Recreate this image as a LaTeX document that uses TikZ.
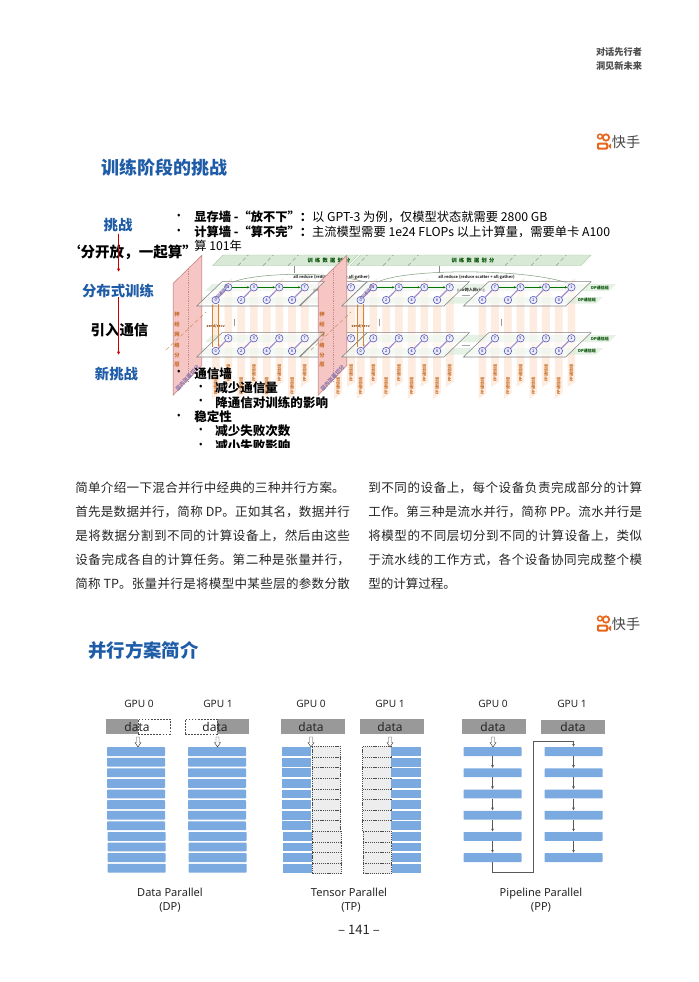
\documentclass[tikz,border=0pt]{standalone}
\usepackage{fontspec}
\setmainfont{Noto Sans CJK SC}
\newfontfamily\latinfont{Noto Sans}
\usetikzlibrary{arrows.meta}
\XeTeXlinebreaklocale "zh"
\XeTeXlinebreakskip=0pt plus 2pt minus .5pt
\newcommand\fsz[1]{\fontsize{#1}{#1}\selectfont}
\newcommand\jline[2]{\parbox{#1}{\tolerance=9999\hbadness=10000\emergencystretch=3pt\parfillskip=0pt\noindent #2}}
\definecolor{kblue}{HTML}{1F5CA8}
\definecolor{barblue}{HTML}{7AAADF}
\definecolor{datagrey}{HTML}{999999}
\definecolor{pinkp}{HTML}{F6C6C4}
\definecolor{pinke}{HTML}{C98A8A}
\definecolor{stripe}{HTML}{FDEADC}
\definecolor{bandg}{HTML}{D8EAD6}
\definecolor{bande}{HTML}{A9C8A5}
\definecolor{ppo}{HTML}{C8702A}
\definecolor{purp}{HTML}{A48CCB}
\definecolor{kslogo}{HTML}{E8661C}
\tikzset{
  lefttext/.style={anchor=west,inner sep=0pt,font=\fsz{9.4},text=black!85},
  slidehead/.style={inner sep=0pt,font=\fsz{13.8}\bfseries,text=kblue},
  blueword/.style={inner sep=0pt,font=\fsz{10.8}\bfseries,text=kblue},
  blackword/.style={inner sep=0pt,font=\fsz{10.8}\bfseries,text=black},
  bullettext/.style={anchor=west,inner sep=0pt,font=\fsz{9.2},text=black},
  dotmark/.style={inner sep=0pt,font=\latinfont\fsz{8},text=black},
  redarrow/.style={draw=red!80!black,line width=.7pt,-{Latex[length=2.5pt,width=2.5pt]}},
  bar/.style={fill=barblue,draw=none,rounded corners=.5pt,inner sep=0pt,minimum width=43.5pt,minimum height=6.6pt},
  halfbar/.style={fill=barblue,draw=none,inner sep=0pt,minimum width=21.8pt,minimum height=6.6pt},
  ghost/.style={fill=black!7,draw=black!70,dash pattern=on .9pt off .7pt,line width=.3pt,inner sep=0pt,minimum width=21.3pt,minimum height=7.95pt},
  databox/.style={fill=datagrey,draw=none,inner sep=0pt,minimum width=48pt,minimum height=11.2pt},
  ghostdata/.style={fill=white,draw=black!70,dash pattern=on 1.3pt off 1pt,line width=.5pt,inner sep=0pt,minimum width=24pt,minimum height=11.2pt},
  datatext/.style={inner sep=0pt,font=\latinfont\fsz{9},text=black!85},
  gputext/.style={anchor=mid,inner sep=0pt,font=\latinfont\fsz{7.6},text=black!85},
  captext/.style={anchor=mid,inner sep=0pt,font=\latinfont\fsz{8.3},text=black!85},
  openarrow/.style={fill=white,draw=black!75,line width=.35pt},
  flow/.style={draw=black!65,line width=.45pt,-{Latex[length=2.2pt,width=2.2pt]}},
  planebox/.style={fill=white,fill opacity=.55,draw=black!50,line width=.4pt},
  gpc/.style={circle,fill=blue!8,draw=blue!55!black!70,line width=.4pt,inner sep=0pt,minimum size=5.6pt,font=\fsz{2.8},text=blue!40!black},
  tinygreen/.style={inner sep=0pt,font=\fsz{3}\bfseries,text=green!30!black},
  pptext/.style={inner sep=0pt,rotate=90,font=\fsz{3}\bfseries,text=ppo},
  pinktext/.style={inner sep=0pt,font=\fsz{4}\bfseries,text=ppo},
  pinkrot/.style={inner sep=0pt,rotate=47,font=\fsz{4}\bfseries,text=purp!85!black},
  tplabel/.style={inner sep=0pt,rotate=47,font=\fsz{3.2}\bfseries,text=purp!85!black},
  srtext/.style={inner sep=0pt,font=\fsz{2.7}\bfseries,text=ppo!70!black},
  sendline/.style={draw=orange!80!black!80,line width=.35pt,-{Latex[length=1.8pt,width=1.8pt]}},
  greenflow/.style={draw=green!45!black,line width=.35pt,-{Latex[length=1.8pt,width=1.8pt]}},
  pairlink/.style={draw=purp,line width=.9pt},
}
\newcommand\kslogo[2]{%
  \begin{scope}[shift={(0,#1)}]
    \draw[kslogo,line width=1.1pt] (600,136.5) circle (2.4);
    \draw[kslogo,line width=1.3pt] (606,137.5) circle (3.2);
    \fill[kslogo,rounded corners=1pt] (597,142.5) rectangle (608,149.7);
    \fill[white,rounded corners=.6pt] (599,144.6) rectangle (606,147.6);
    \fill[kslogo] (608,146) -- (611,143.5) -- (611,149) -- cycle;
    \node[inner sep=0pt,font=\fsz{10.6},text=black!72] (#2) at (626,142) {快手};
  \end{scope}}
\begin{document}
\begin{tikzpicture}[x=0.75pt,y=-0.75pt]
\useasboundingbox (0,0) rectangle (699,982);
\fill[white] (0,0) rectangle (699,982);

% header
\node[inner sep=0pt,font=\fsz{6.9}\bfseries,text=black!70] (hdA) at (619,52) {对话先行者};
\node[inner sep=0pt,font=\fsz{6.9}\bfseries,text=black!70] (hdB) at (619,65.5) {洞见新未来};
\kslogo{0}{logoA}
\kslogo{482}{logoB}

% slide titles
\node[slidehead,font=\fsz{13.5}\bfseries] (titleA) at (164,168) {训练阶段的挑战};
\node[slidehead] (titleB) at (143.5,650.5) {并行方案简介};

% ---------- 3D figure ----------
% orange stripes
\foreach \c in {228.3,253.8,279.3,304.7,351,373.3,398.8,424.3,449.7,495,520.5,546,571.4}{
  \fill[stripe,opacity=.9] ({\c-3.8},284) -- ({\c+3.8},278) -- ({\c+3.8},382) -- ({\c-3.8},387) -- cycle;
  \node[pptext] (ppb\c) at (\c,373) {PP通信组};
}
\foreach \c in {215.7,241.2,266.7,292,338,360.7,386.2,411.7,437,482.3,507.8,533.3,558.7}{
  \fill[stripe,opacity=.9] ({\c-3.8},306) -- ({\c+3.8},306) -- ({\c+3.8},393) -- ({\c-3.8},399) -- cycle;
  \node[pptext] (ppf\c) at (\c,386) {PP通信组};
}
% green communication bands
\foreach \dy/\nm in {0/a,51/b}{
  \fill[bandg,opacity=.65] (212,{284+\dy}) -- (612,{284+\dy}) -- (616,{284+\dy}) -- (609,{291+\dy}) -- (205,{291+\dy}) -- cycle;
  \fill[bandg,opacity=.65] (200,{297+\dy}) -- (603,{297+\dy}) -- (596,{303.5+\dy}) -- (194,{303.5+\dy}) -- cycle;
  \node[tinygreen] (dpu\nm) at (600,{287.5+\dy}) {DP通信组};
  \node[tinygreen] (dpl\nm) at (587,{300.3+\dy}) {DP通信组};
}
% top band
\filldraw[fill=bandg,draw=bande,line width=.3pt] (212.7,265.7) -- (223,255) -- (358,255) -- (347.5,265.7) -- cycle;
\filldraw[fill=bandg,draw=bande,line width=.3pt] (350,265.7) -- (360.5,255) -- (591,255) -- (580.7,265.7) -- cycle;
\foreach \b in {238,263,288,357,383,408,505,531,556}
  \draw[black!55,densely dashed,line width=.25pt] (\b,265.7) -- ({\b+10.3},255);
\node[tinygreen,font=\fsz{3.9}\bfseries] (bandA) at (329,260.5) {训\hspace{1.7pt}练\hspace{1.7pt}数\hspace{1.7pt}据\hspace{1.7pt}划\hspace{1.7pt}分};
\node[tinygreen,font=\fsz{3.9}\bfseries] (bandB) at (473,260.5) {训\hspace{1.7pt}练\hspace{1.7pt}数\hspace{1.7pt}据\hspace{1.7pt}划\hspace{1.7pt}分};
% all reduce
\draw[black!45,line width=.3pt] (294,265.7) -- (294,273);
\draw[black!45,line width=.3pt] (439,265.7) -- (439,273);
\draw[bande!80!black,line width=.4pt] (231,283) .. controls (250,273) and (330,270) .. (368,283);
\draw[bande!80!black,line width=.4pt] (376,283) .. controls (400,268) and (530,268) .. (570,284);
\node[tinygreen,anchor=west,text=black!80] (redA) at (293,277.3) {all reduce (reduce scatter + all gather)};
\node[tinygreen,anchor=west,text=black!80] (redB) at (438,277.3) {all reduce (reduce scatter + all gather)};
\node[tinygreen,text=black!75] (pairA) at (471,290.2) {pair跨入网ring};
\node[tinygreen,anchor=west,text=black!75] (pairB) at (313,290.2) {pai};

% hidden plane pieces behind second pink wall
\foreach \dy in {0,51}{
  \filldraw[planebox] (300,{306+\dy}) -- (342,{306+\dy}) -- (367,{281.7+\dy}) -- (325,{281.7+\dy}) -- cycle;
}
\node[gpc] (hiddenA) at (351,287.3) {7};
\node[gpc] (hiddenB) at (351,338.3) {7};

% pink walls
\foreach \x/\nm in {0/a,145/b}{
  \filldraw[fill=pinkp,draw=pinke,line width=.5pt] ({173.3+\x},283.3) -- ({201.7+\x},255.5) -- ({201.7+\x},365.5) -- ({173.3+\x},395) -- cycle;
  \draw[pinke,densely dotted,line width=.35pt] ({188.5+\x},269) -- ({188.5+\x},381);
  \draw[orange!70!black!70,densely dashed,line width=.3pt] ({166+\x},350) -- ({206+\x},312);
  \node[pinktext] (p1\nm) at ({177+\x},314) {神};
  \node[pinktext] (p2\nm) at ({177+\x},324.5) {经};
  \node[pinktext] (p3\nm) at ({177+\x},335) {网};
  \node[pinktext] (p4\nm) at ({177+\x},345) {络};
  \node[pinktext] (p5\nm) at ({177+\x},355) {分};
  \node[pinktext] (p6\nm) at ({177+\x},365) {层};
  \node[pinkrot] (p7\nm) at ({187.5+\x},378) {层内张量切分};
}

% node planes and GPU circles: group, x shift, reversed?
\foreach \g/\dx/\rev in {0/0/0,1/145/0,2/266.7/1}{
  \foreach \l/\dy in {0/0,1/51}{
    \filldraw[planebox] ({196.7+\dx},{306+\dy}) -- ({299+\dx},{306+\dy}) -- ({324.3+\dx},{281.7+\dy}) -- ({222+\dx},{281.7+\dy}) -- cycle;
    \foreach \i/\off in {0/0,1/25.5,2/51,3/76.4}{
      \pgfmathtruncatemacro{\up}{\rev==1 ? 7-2*\i : 1+2*\i}
      \pgfmathtruncatemacro{\dn}{\up-1}
      \node[gpc] (u\g l\l i\i) at ({228.3+\dx+\off},{287.3+\dy}) {\up};
      \node[gpc] (d\g l\l i\i) at ({215.7+\dx+\off},{300+\dy}) {\dn};
      \draw[pairlink] (d\g l\l i\i) -- (u\g l\l i\i);
    }
  }
  \draw[greenflow] (u\g l0i0) -- (u\g l0i1);
  \draw[greenflow] (u\g l0i1) -- (u\g l0i2);
  \draw[greenflow] (u\g l0i2) -- (u\g l0i3);
}
% send/recv
\foreach \g/\lx in {0/215.7,1/360.7}{
  \node[srtext] (sr\g) at (\lx,326) {send/recv};
  \draw[sendline] ([xshift=-2.25pt]d\g l1i0.north) -- ([xshift=-2.25pt]d\g l0i0.south);
  \draw[sendline] ([xshift=2.25pt]d\g l0i0.south) -- ([xshift=2.25pt]d\g l1i0.north);
  \node[tplabel] (tpA\g) at ({\lx+6},292.5) {TP通信组};
}
\foreach \x in {234,379,501.7}
  \draw[black!40,line width=.35pt] (\x,319) -- (\x,326);
\draw[black!35,line width=.35pt] (462,295) -- (470,295);
\draw[black!35,line width=.35pt] (462,345.5) -- (470,345.5);

% left flow words
\node[blueword] (wA) at (118,225.5) {挑战};
\node[blackword,font=\fsz{10.9}\bfseries] (wB) at (131.5,252) {‘分开放，一起算”};
\node[blueword] (wC) at (118,291) {分布式训练};
\node[blackword] (wD) at (119.5,330) {引入通信};
\node[blueword] (wE) at (116.5,374) {新挑战};
\coordinate (arA) at (118.6,233.5);
\coordinate (arB) at (118.6,272);
\coordinate (arC) at (118.6,297);
\coordinate (arD) at (118.6,355);
\draw[redarrow] (arA) -- (arB);
\draw[redarrow] (arC) -- (arD);

% bullets top
\node[dotmark] (bu1) at (179,217) {•};
\node[dotmark] (bu2) at (179,231.5) {•};
\node[bullettext] (to1) at (194,217) {\textbf{显存墙 -“放不下”：}以 GPT-3 为例，仅模型状态就需要 2800 GB};
\node[bullettext] (to2) at (194,231.5) {\textbf{计算墙 -“算不完”：}主流模型需要 1e24 FLOPs 以上计算量，需要单卡 A100};
\node[bullettext] (to3) at (194,246) {算 101年};
% bullets bottom, clipped like the slide crop
\begin{scope}
  \clip (150,360) rectangle (640,447.5);
  \node[dotmark] (bu3) at (179,373) {•};
  \node[dotmark] (bu4) at (201,388) {•};
  \node[dotmark] (bu5) at (201,402) {•};
  \node[dotmark] (bu6) at (179,417) {•};
  \node[dotmark] (bu7) at (201,431) {•};
  \node[dotmark] (bu8) at (201,445.5) {•};
  \node[bullettext,font=\fsz{9.4}\bfseries] (bo1) at (194,373.5) {通信墙};
  \node[bullettext,font=\fsz{9.4}\bfseries] (bo2) at (215,388) {减少通信量};
  \node[bullettext,font=\fsz{9.4}\bfseries] (bo3) at (215,402.5) {降通信对训练的影响};
  \node[bullettext,font=\fsz{9.4}\bfseries] (bo4) at (194,417) {稳定性};
  \node[bullettext,font=\fsz{9.4}\bfseries] (bo5) at (215,431) {减少失败次数};
  \node[bullettext,font=\fsz{9.4}\bfseries] (bo6) at (215,445.5) {减小失败影响};
\end{scope}

% body text
\node[lefttext] (l1) at (75,488) {\jline{202pt}{简单介绍一下混合并行中经典的三种并行方案。}};
\node[lefttext] (l2) at (75,512) {\jline{206pt}{首先是数据并行，简称 DP。正如其名，数据并行}};
\node[lefttext] (l3) at (75,536) {\jline{206pt}{是将数据分割到不同的计算设备上，然后由这些}};
\node[lefttext] (l4) at (75,560) {\jline{206pt}{设备完成各自的计算任务。第二种是张量并行，}};
\node[lefttext] (l5) at (75,584) {\jline{206pt}{简称 TP。张量并行是将模型中某些层的参数分散}};
\node[lefttext] (r1) at (368,488) {\jline{205.5pt}{到不同的设备上，每个设备负责完成部分的计算}};
\node[lefttext] (r2) at (368,512) {\jline{205.5pt}{工作。第三种是流水并行，简称 PP。流水并行是}};
\node[lefttext] (r3) at (368,536) {\jline{205.5pt}{将模型的不同层切分到不同的计算设备上，类似}};
\node[lefttext] (r4) at (368,560) {\jline{205.5pt}{于流水线的工作方式，各个设备协同完成整个模}};
\node[lefttext] (r5) at (368,584) {型的计算过程。};

% ---------- parallel schemes ----------
\foreach \x/\t [count=\n] in {139/GPU 0,218/GPU 1,311/GPU 0,390/GPU 1,493/GPU 0,572/GPU 1}
  \node[gputext] (gpu\n) at (\x,703.5) {\t};

% data boxes
\node[databox] (dA) at (138,726.5) {};
\node[ghostdata] (dAg) at (154,726.5) {};
\node[datatext] (dAt) at (137,726.5) {data};
\node[databox] (dB) at (217,726.5) {};
\node[ghostdata] (dBg) at (201,726.5) {};
\node[datatext] (dBt) at (215,726.5) {data};
\node[databox] (dC) at (313,726.5) {};
\node[datatext] (dCt) at (311,726.5) {data};
\node[databox] (dD) at (392,726.5) {};
\node[datatext] (dDt) at (390,726.5) {data};
\node[databox] (dE) at (494,726.5) {};
\node[datatext] (dEt) at (493,726.5) {data};
\node[databox] (dF) at (573,727) {};
\node[datatext] (dFt) at (573,727) {data};

% bars DP + TP
\foreach \i in {0,...,11}{
  \pgfmathsetmacro{\yy}{751.6+\i*10.6}
  \pgfmathsetmacro{\sh}{\i>7 ? 0.6 : 0}
  \node[bar] (dpa\i) at ({136+\sh},\yy) {};
  \node[bar] (dpb\i) at ({217+\sh},\yy) {};
  \node[ghost] (tpg\i) at ({326+\sh},\yy) {};
  \node[halfbar] (tpa\i) at ({296.6+\sh},\yy) {};
  \node[ghost] (tqg\i) at ({376.8+\sh},\yy) {};
  \node[halfbar] (tqa\i) at ({406+\sh},\yy) {};
}
% bars PP
\foreach \i in {0,...,5}{
  \pgfmathsetmacro{\yy}{751.6+\i*21.2}
  \node[bar] (ppa\i) at (492.5,\yy) {};
  \node[bar] (ppc\i) at (573.5,\yy) {};
}
\foreach \i/\j in {0/1,1/2,2/3,3/4,4/5}{
  \draw[flow] (ppa\i) -- (ppa\j);
  \draw[flow] (ppc\i) -- (ppc\j);
}
\coordinate (ccA) at (492.5,872);
\coordinate (ccB) at (533.5,872);
\coordinate (ccC) at (533.5,741);
\coordinate (ccD) at (573.5,741);
\draw[black!65,line width=.45pt] (ppa5.south) -- (ccA) -- (ccB) -- (ccC) -- (ccD);
\draw[flow] (ccD) -- (ppc0.north);

% open arrows
\foreach \x in {138,217.5,311,390,493}
  \draw[openarrow] ({\x-1.5},737) -- ({\x+1.5},737) -- ({\x+1.5},742.5) -- ({\x+3},742.5) -- (\x,747) -- ({\x-3},742.5) -- ({\x-1.5},742.5) -- cycle;

% captions
\node[captext] (capA) at (170,892.5) {Data Parallel};
\node[captext] (capB) at (170,906.5) {(DP)};
\node[captext] (capC) at (349,892.5) {Tensor Parallel};
\node[captext] (capD) at (351,906.5) {(TP)};
\node[captext] (capE) at (541,892.5) {Pipeline Parallel};
\node[captext] (capF) at (541,906.5) {(PP)};

% page number
\node[inner sep=0pt,font=\fsz{9.8},text=black!85] (pageno) at (359,930) {– 141 –};
\end{tikzpicture}
\end{document}
